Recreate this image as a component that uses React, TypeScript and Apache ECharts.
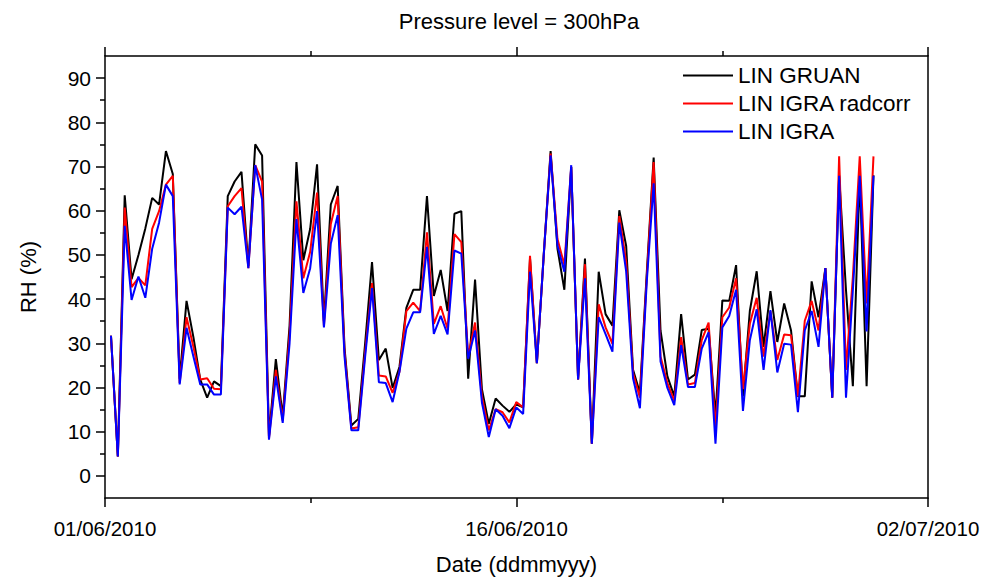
import React, { useEffect, useRef } from "react";
import * as echarts from "echarts";

// Sounding series (RH %, 300 hPa), one value per launch
const SERIES_NAMES = ["LIN GRUAN", "LIN IGRA radcorr", "LIN IGRA"];
const SERIES_COLORS = ["#000000", "#ff0000", "#0000ff"];

// launch times: hours after 01/06/2010 00:00 of the first launch, and launch spacing
const FIRST_HOUR = 5.4;
const STEP_HOURS = 6.21;

const GRUAN = [
  31.7, 4.4, 63.5, 44.5, 50, 56, 62.9, 61.4, 73.5, 68.3,
  22, 39.6, 31.4, 21.8, 17.7, 21.4, 20.3, 63.3, 66.6, 68.8,
  47.5, 75, 72.5, 9, 26.4, 13.5, 34, 71, 48.8, 55.9,
  70.5, 35, 61.4, 65.6, 29, 11.4, 12.9, 30, 48.4, 26.2,
  28.8, 19.9, 24.7, 38, 42.1, 42.1, 63.3, 40.7, 46.6, 37.3,
  59.3, 59.9, 22, 44.4, 19.6, 11.8, 17.5, 15.9, 14.5, 16.2,
  15.5, 49.2, 25.5, 50, 73.5, 51.4, 42.1, 69.9, 21.8, 49.2,
  7.3, 46.2, 36.6, 34, 60.1, 52, 24, 18.8, 46, 72,
  32.9, 22.5, 18, 36.6, 21.8, 22.9, 33, 33.3, 13.6, 39.7,
  39.6, 47.7, 18, 37.3, 46.3, 29.2, 41.8, 30.3, 39, 32.9,
  18, 18, 44, 35.9, 47, 17.7, 68, 42, 20.3, 68,
  20.3, 68,
];

const RADCORR = [
  31.7, 4.4, 60.7, 42.7, 44.8, 43.1, 55.9, 59.9, 65.9, 67.9,
  21, 35.9, 29.2, 21.8, 22.1, 19.7, 19.6, 61, 63.3, 65.1,
  47, 70.3, 66.6, 8.5, 24, 12.5, 32, 62.1, 44.7, 50.7,
  64.1, 34, 57, 63.3, 28, 10.7, 11, 28, 43.6, 22.7,
  22.5, 18.8, 23.6, 37.3, 39.2, 37.3, 55.1, 34.4, 38.4, 33.3,
  54.7, 52.9, 27, 34.7, 18, 10.3, 15.1, 14.4, 12.1, 16.7,
  15.5, 49.8, 25.5, 50, 72.9, 53.6, 47.7, 69.9, 21.8, 47.9,
  7.3, 38.8, 33.6, 29.9, 58.8, 48.4, 23.3, 17.7, 45, 71,
  27, 21, 17, 31.4, 20.7, 21, 30.7, 34.7, 10.7, 35.9,
  38.1, 44.7, 19.6, 34.4, 40.3, 27, 37.3, 26.2, 32, 31.8,
  18, 35.1, 39.6, 32.9, 47, 17.7, 72.3, 24, 45, 72.3,
  39, 72.3,
];

const IGRA = [
  31.7, 4.4, 56.6, 39.8, 45.1, 40.3, 51.4, 57.3, 65.9, 63.3,
  20.7, 33.5, 27, 20.7, 20.7, 18.4, 18.4, 60.7, 59.2, 60.9,
  47, 70.3, 62.5, 8.2, 22.5, 12, 30, 58.1, 41.4, 47,
  59.9, 33.6, 52.5, 59, 27, 10.3, 10.3, 27, 42.5, 21.2,
  21, 16.7, 23.6, 33.3, 37, 37, 51.8, 32.1, 36.2, 32,
  51, 50.3, 26.5, 32.9, 16.6, 8.8, 15.1, 13.6, 10.8, 15.5,
  14, 46.2, 25.5, 50, 72.5, 52.1, 46.2, 70.3, 21.8, 44.7,
  7.3, 35.9, 32.1, 28.1, 57.3, 46.2, 22.1, 15.3, 44, 66.2,
  25.9, 19.9, 16, 29.6, 20.1, 20.1, 28.8, 32.5, 7.3, 33.6,
  36.2, 42.1, 14.7, 30.7, 37.7, 24, 37.5, 23.4, 29.9, 29.7,
  14.4, 32.9, 37.3, 29.2, 47, 17.7, 67.9, 17.7, 42, 67.9,
  32.7, 67.9,
];

const Y_MAJOR_TICKS = [0, 10, 20, 30, 40, 50, 60, 70, 80, 90];
const Y_MINOR_TICKS = [5, 15, 25, 35, 45, 55, 65, 75, 85];
const X_START_UTC = Date.UTC(2010, 5, 1); // 01/06/2010
const X_SPAN_DAYS = 31; // to 02/07/2010
const X_TICK_DAYS = 15.5;

const FONT = "'Liberation Sans', Arial, Helvetica, sans-serif";

function dayLabel(v: number): string {
  const d = new Date(X_START_UTC + v * 86400000);
  const dd = String(d.getUTCDate()).padStart(2, "0");
  const mm = String(d.getUTCMonth() + 1).padStart(2, "0");
  return `${dd}/${mm}/${d.getUTCFullYear()}`;
}

export default function App() {
  const ref = useRef<HTMLDivElement>(null);

  useEffect(() => {
    if (!ref.current) return;
    const chart = echarts.init(ref.current, undefined, { renderer: "svg" });
    const values = [GRUAN, RADCORR, IGRA];
    const toPoints = (arr: number[]) =>
      arr.map((v, i) => [(FIRST_HOUR + i * STEP_HOURS) / 24, v]);

    const axisLine = { show: true, onZero: false, lineStyle: { color: "#000", width: 1.5 } };
    const tickStyle = { color: "#000", width: 1.5 };

    chart.setOption({
      animation: false,
      backgroundColor: "#fff",
      title: {
        text: "Pressure level = 300hPa",
        left: 514,
        textAlign: "center",
        top: 5,
        textStyle: { fontFamily: FONT, fontSize: 22, fontWeight: "normal", color: "#000" },
      },
      legend: {
        orient: "vertical",
        left: 683,
        top: 64,
        padding: 0,
        itemWidth: 50,
        itemHeight: 14,
        itemGap: 5,
        icon: "path://M0,6 L50,6 L50,8 L0,8 Z",
        data: SERIES_NAMES,
        textStyle: { fontFamily: FONT, fontSize: 22.5, color: "#000", lineHeight: 22 },
      },
      grid: { left: 105, right: 60, top: 56, bottom: 75 },
      xAxis: [
        {
          type: "value",
          position: "bottom",
          min: 0,
          max: X_SPAN_DAYS,
          interval: X_TICK_DAYS,
          axisLine,
          axisTick: { show: true, inside: false, length: 9, lineStyle: tickStyle },
          minorTick: { show: true, splitNumber: 2, length: 5, lineStyle: tickStyle },
          splitLine: { show: false },
          minorSplitLine: { show: false },
          axisLabel: {
            show: true,
            margin: 20,
            fontFamily: FONT,
            fontSize: 20.5,
            color: "#000",
            showMinLabel: true,
            showMaxLabel: true,
            formatter: (v: number) => dayLabel(v),
          },
          name: "Date (ddmmyyy)",
          nameLocation: "middle",
          nameGap: 55,
          nameTextStyle: { fontFamily: FONT, fontSize: 22, color: "#000" },
        },
        {
          type: "value",
          position: "top",
          min: 0,
          max: X_SPAN_DAYS,
          interval: X_TICK_DAYS,
          axisLine,
          axisTick: { show: true, inside: false, length: 9, lineStyle: tickStyle },
          minorTick: { show: true, splitNumber: 2, length: 5, lineStyle: tickStyle },
          splitLine: { show: false },
          minorSplitLine: { show: false },
          axisLabel: { show: false },
        },
      ],
      yAxis: [
        {
          type: "value",
          position: "left",
          min: -5,
          max: 95,
          axisLine,
          axisTick: {
            show: true,
            inside: false,
            length: 9,
            customValues: Y_MAJOR_TICKS,
            lineStyle: tickStyle,
          },
          splitLine: { show: false },
          axisLabel: {
            show: true,
            customValues: Y_MAJOR_TICKS,
            margin: 14,
            fontFamily: FONT,
            fontSize: 21,
            color: "#000",
          },
          name: "RH (%)",
          nameLocation: "middle",
          nameGap: 66,
          nameTextStyle: { fontFamily: FONT, fontSize: 22, color: "#000" },
        },
        {
          type: "value",
          position: "left",
          min: -5,
          max: 95,
          axisLine: { show: false, onZero: false },
          axisTick: {
            show: true,
            inside: false,
            length: 5,
            customValues: Y_MINOR_TICKS,
            lineStyle: tickStyle,
          },
          splitLine: { show: false },
          axisLabel: { show: false },
        },
        {
          type: "value",
          position: "right",
          min: -5,
          max: 95,
          axisLine,
          axisTick: { show: false },
          splitLine: { show: false },
          axisLabel: { show: false },
        },
      ],
      series: SERIES_NAMES.map((name, k) => ({
        name,
        type: "line",
        xAxisIndex: 0,
        yAxisIndex: 0,
        data: toPoints(values[k]),
        symbol: "none",
        color: SERIES_COLORS[k],
        lineStyle: { color: SERIES_COLORS[k], width: 2 },
        z: 2 + k,
      })),
    });

    return () => chart.dispose();
  }, []);

  return (
    <div
      ref={ref}
      style={{ position: "fixed", left: 0, top: 0, width: 988, height: 580, background: "#fff" }}
    />
  );
}
